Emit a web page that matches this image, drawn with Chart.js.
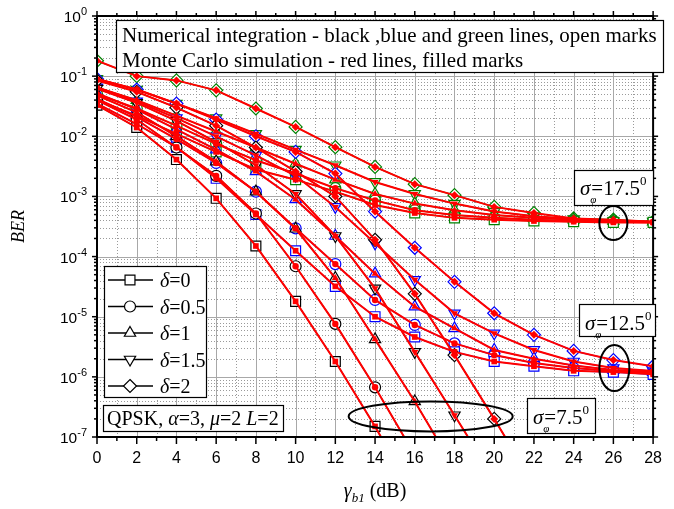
<!DOCTYPE html>
<html><head><meta charset="utf-8">
<script src="https://cdn.jsdelivr.net/npm/chart.js@4.4.1/dist/chart.umd.min.js"></script>
<style>html,body{margin:0;padding:0;background:#fff;}#wrap{width:674px;height:509px;}</style>
</head><body><div id="wrap"><canvas id="c" width="674" height="509"></canvas></div>
<script>
// ---- data ----
const snr = [0,2,4,6,8,10,12,14,16,18,20,22,24,26,28];
const xTickLabels = ['0','2','4','6','8','10','12','14','16','18','20','22','24','26','28'];
const yTickBase = '10';
const yTickExp = ['0','-1','-2','-3','-4','-5','-6','-7'];
const deltaLabels = ['0','0.5','1','1.5','2'];
const sigmaLabels = ['7.5','12.5','17.5'];

// sigma = 7.5 deg (black, numerical integration)
const ber75_d0  = [3.3e-2,1.4e-2,4.1e-3,9.3e-4,1.5e-4,1.8e-5,1.8e-6,1.5e-7,1.0e-8];
const ber75_d05 = [4.0e-2,1.9e-2,6.5e-3,2.2e-3,5.2e-4,6.9e-5,7.6e-6,6.7e-7,5.0e-8];
const ber75_d1  = [4.8e-2,2.5e-2,1.0e-2,3.8e-3,1.2e-3,2.9e-4,4.4e-5,4.2e-6,3.9e-7,3.0e-8];
const ber75_d15 = [6.2e-2,3.6e-2,1.8e-2,8.0e-3,3.3e-3,1.1e-3,2.2e-4,2.96e-5,2.6e-6,2.3e-7,2.0e-8];
const ber75_d2  = [8.5e-2,5.5e-2,3.0e-2,1.5e-2,6.5e-3,2.6e-3,1.0e-3,1.9e-4,2.4e-5,2.3e-6,2.0e-7,1.6e-8];
// sigma = 12.5 deg (blue)
const ber125_d0  = [3.5e-2,1.6e-2,6.6e-3,2.0e-3,5.0e-4,1.25e-4,3.2e-5,1.0e-5,4.6e-6,2.6e-6,1.8e-6,1.5e-6,1.26e-6,1.2e-6,1.1e-6];
const ber125_d05 = [4.2e-2,2.1e-2,9.0e-3,3.6e-3,1.2e-3,2.95e-4,7.5e-5,1.9e-5,7.3e-6,3.6e-6,2.3e-6,1.7e-6,1.4e-6,1.25e-6,1.15e-6];
const ber125_d1  = [5.2e-2,2.8e-2,1.3e-2,6.0e-3,2.6e-3,8.9e-4,2.2e-4,5.2e-5,1.47e-5,6.4e-6,2.8e-6,2.0e-6,1.55e-6,1.3e-6,1.2e-6];
const ber125_d15 = [6.5e-2,3.8e-2,2.0e-2,1.0e-2,4.8e-3,2.2e-3,6.7e-4,1.66e-4,4.1e-5,1.14e-5,5.3e-6,2.8e-6,1.8e-6,1.4e-6,1.25e-6];
const ber125_d2  = [9.0e-2,6.0e-2,3.5e-2,1.9e-2,1.0e-2,5.5e-3,2.4e-3,5.6e-4,1.4e-4,3.8e-5,1.14e-5,5.0e-6,2.7e-6,1.9e-6,1.5e-6];
// sigma = 17.5 deg (green)
const ber175_d0  = [4.0e-2,2.2e-2,1.1e-2,5.5e-3,2.8e-3,1.9e-3,1.2e-3,7.2e-4,5.3e-4,4.4e-4,4.1e-4,3.9e-4,3.8e-4,3.7e-4,3.7e-4];
const ber175_d05 = [5.0e-2,2.9e-2,1.5e-2,7.5e-3,4.0e-3,2.4e-3,1.37e-3,8.6e-4,5.9e-4,4.9e-4,4.4e-4,4.1e-4,3.9e-4,3.8e-4,3.7e-4];
const ber175_d1  = [6.5e-2,4.0e-2,2.2e-2,1.2e-2,6.5e-3,3.5e-3,1.9e-3,1.1e-3,7.6e-4,5.9e-4,4.9e-4,4.4e-4,4.1e-4,3.9e-4,3.8e-4];
const ber175_d15 = [9.0e-2,6.0e-2,3.5e-2,2.0e-2,1.1e-2,6.0e-3,3.3e-3,1.74e-3,1.1e-3,7.6e-4,5.6e-4,4.7e-4,4.2e-4,3.9e-4,3.8e-4];
const ber175_d2  = [1.8e-1,1.0e-1,8.5e-2,5.8e-2,2.9e-2,1.43e-2,6.6e-3,3.1e-3,1.6e-3,1.05e-3,6.7e-4,5.3e-4,4.3e-4,4.1e-4,3.8e-4];

// Monte Carlo simulation marks (red) read at the same points
const mc75  = [ber75_d0, ber75_d05, ber75_d1, ber75_d15, ber75_d2];
const mc125 = [ber125_d0, ber125_d05, ber125_d1, ber125_d15, ber125_d2];
const mc175 = [ber175_d0, ber175_d05, ber175_d1, ber175_d15, ber175_d2];

// ---- styling ----
const FONT_SERIF = '"Liberation Serif","Times New Roman",serif';
const FONT_SANS = '"Liberation Sans",Arial,sans-serif';
const groupColors = ['#000000', '#0000ff', '#008000'];
const shapes = [
  {style:'rect', rot:0, r:7, rf:4},
  {style:'circle', rot:0, r:5.5, rf:3.2},
  {style:'triangle', rot:0, r:6.5, rf:4},
  {style:'triangle', rot:180, r:6.5, rf:4},
  {style:'rectRot', rot:0, r:6.5, rf:4}
];
const analytic = [
  [ber75_d0, ber75_d05, ber75_d1, ber75_d15, ber75_d2],
  [ber125_d0, ber125_d05, ber125_d1, ber125_d15, ber125_d2],
  [ber175_d0, ber175_d05, ber175_d1, ber175_d15, ber175_d2]
];
const monteCarlo = [mc75, mc125, mc175];

function toPts(arr){
  const out = [];
  arr.forEach((v,i)=>{ if(v!=null) out.push({x:snr[i], y:v}); });
  return out;
}

const datasets = [];
analytic.forEach((grp, g)=>{
  grp.forEach((arr, d)=>{
    const s = shapes[d];
    datasets.push({
      label:'sigma '+sigmaLabels[g]+' delta '+deltaLabels[d],
      data: toPts(arr), borderColor: groupColors[g], borderWidth: 1.2,
      pointStyle: s.style, pointRotation: s.rot, pointRadius: s.r,
      pointBackgroundColor: '#ffffff', pointBorderColor: groupColors[g], pointBorderWidth: 1.2,
      tension: 0, clip: 0, order: 2
    });
  });
});
monteCarlo.forEach((grp, g)=>{
  grp.forEach((arr, d)=>{
    const s = shapes[d];
    datasets.push({
      label:'MC sigma '+sigmaLabels[g]+' delta '+deltaLabels[d],
      data: toPts(arr), borderColor: '#ff0000', borderWidth: 2,
      pointStyle: s.style, pointRotation: s.rot, pointRadius: s.rf,
      pointBackgroundColor: '#ff0000', pointBorderColor: '#ff0000', pointBorderWidth: 0,
      tension: 0, clip: 0, order: 1
    });
  });
});

function drawMarker(ctx, style, x, y, r, rot, fill, stroke, lw){
  ctx.save();
  ctx.beginPath();
  if(style==='circle'){ ctx.arc(x,y,r,0,Math.PI*2); }
  else if(style==='rect'){ const h=r*Math.SQRT1_2; ctx.rect(x-h,y-h,2*h,2*h); }
  else if(style==='rectRot'){ ctx.moveTo(x,y-r); ctx.lineTo(x+r,y); ctx.lineTo(x,y+r); ctx.lineTo(x-r,y); ctx.closePath(); }
  else if(style==='triangle'){
    let a = rot*Math.PI/180;
    ctx.moveTo(x+Math.sin(a)*r, y-Math.cos(a)*r);
    a += 2*Math.PI/3; ctx.lineTo(x+Math.sin(a)*r, y-Math.cos(a)*r);
    a += 2*Math.PI/3; ctx.lineTo(x+Math.sin(a)*r, y-Math.cos(a)*r);
    ctx.closePath();
  }
  if(fill){ ctx.fillStyle=fill; ctx.fill(); }
  if(stroke){ ctx.strokeStyle=stroke; ctx.lineWidth=lw; ctx.stroke(); }
  ctx.restore();
}

function drawRich(ctx, parts, x, y){
  let cx = x;
  ctx.save(); ctx.textBaseline='alphabetic'; ctx.textAlign='left'; ctx.fillStyle='#000';
  parts.forEach(p=>{
    ctx.font = p.f;
    ctx.fillText(p.t, cx, y + (p.dy||0));
    cx = cx + ctx.measureText(p.t).width;
  });
  ctx.restore();
  return cx;
}
function richWidth(ctx, parts){
  let w=0; ctx.save();
  parts.forEach(p=>{ ctx.font=p.f; w+=ctx.measureText(p.t).width; });
  ctx.restore(); return w;
}
function box(ctx, x0,y0,x1,y1){
  ctx.save(); ctx.fillStyle='#fff'; ctx.fillRect(x0,y0,x1-x0,y1-y0);
  ctx.strokeStyle='#000'; ctx.lineWidth=1.2; ctx.strokeRect(x0+0.5,y0+0.5,x1-x0,y1-y0); ctx.restore();
}

const gridPlugin = {
  id:'originGrid',
  beforeDatasetsDraw(chart){
    const {ctx, chartArea:a, scales:{x:xs, y:ys}} = chart;
    ctx.save();
    ctx.lineWidth = 1;
    ctx.strokeStyle = '#9a9a9a'; ctx.setLineDash([1,2]);
    for(let v=1; v<28; v+=2){ const px=Math.round(xs.getPixelForValue(v))+0.5; ctx.beginPath(); ctx.moveTo(px,a.top); ctx.lineTo(px,a.bottom); ctx.stroke(); }
    for(let e=-7; e<0; e++){ for(let m=2;m<=9;m++){ const py=Math.round(ys.getPixelForValue(m*Math.pow(10,e)))+0.5; ctx.beginPath(); ctx.moveTo(a.left,py); ctx.lineTo(a.right,py); ctx.stroke(); } }
    ctx.setLineDash([]); ctx.strokeStyle = '#a8a8a8';
    for(let v=2; v<28; v+=2){ const px=Math.round(xs.getPixelForValue(v))+0.5; ctx.beginPath(); ctx.moveTo(px,a.top); ctx.lineTo(px,a.bottom); ctx.stroke(); }
    for(let e=-6; e<0; e++){ const py=Math.round(ys.getPixelForValue(Math.pow(10,e)))+0.5; ctx.beginPath(); ctx.moveTo(a.left,py); ctx.lineTo(a.right,py); ctx.stroke(); }
    ctx.restore();
  },
  afterDatasetsDraw(chart){
    const {ctx, chartArea:a, scales:{x:xs, y:ys}} = chart;
    ctx.save();
    ctx.strokeStyle='#000'; ctx.lineWidth=2;
    ctx.strokeRect(a.left, a.top, a.right-a.left, a.bottom-a.top);
    ctx.lineWidth=1.5;
    for(let v=0; v<=28; v++){
      const px = xs.getPixelForValue(v); const L = (v%2===0)?7:4;
      ctx.beginPath(); ctx.moveTo(px,a.bottom); ctx.lineTo(px,a.bottom+L); ctx.stroke();
      ctx.beginPath(); ctx.moveTo(px,a.top); ctx.lineTo(px,a.top-((v%2===0)?5:3)); ctx.stroke();
    }
    for(let e=-7; e<=0; e++){
      for(let m=1;m<=9;m++){
        if(e===0 && m>1) break;
        const py = ys.getPixelForValue(m*Math.pow(10,e)); const L = (m===1)?5:3;
        ctx.beginPath(); ctx.moveTo(a.left,py); ctx.lineTo(a.left-L,py); ctx.stroke();
        ctx.beginPath(); ctx.moveTo(a.right,py); ctx.lineTo(a.right+L,py); ctx.stroke();
      }
    }
    ctx.restore();
  },
  afterDraw(chart){
    const {ctx, chartArea:a, scales:{x:xs, y:ys}} = chart;
    yTickExp.forEach((ex, i)=>{
      const py = ys.getPixelForValue(Math.pow(10, -i));
      ctx.save(); ctx.fillStyle='#000'; ctx.textBaseline='alphabetic';
      ctx.font = '15.5px '+FONT_SANS; const wb = ctx.measureText(yTickBase).width;
      ctx.font = '11px '+FONT_SANS; const we = ctx.measureText(ex).width;
      const right = a.left - 10; const x0 = right - wb - we;
      ctx.font = '15.5px '+FONT_SANS; ctx.fillText(yTickBase, x0, py+6);
      ctx.font = '11px '+FONT_SANS; ctx.fillText(ex, x0+wb, py-1);
      ctx.restore();
    });
    ctx.save(); ctx.fillStyle='#000';
    ctx.translate(24, (a.top+a.bottom)/2); ctx.rotate(-Math.PI/2);
    ctx.font='italic 18px '+FONT_SERIF; ctx.textAlign='center'; ctx.textBaseline='alphabetic';
    ctx.fillText('BER', 0, 0); ctx.restore();
    const xt = [
      {t:'\u03B3', f:'italic 20px '+FONT_SERIF},
      {t:'b1', f:'italic 13px '+FONT_SERIF, dy:5},
      {t:' (dB)', f:'20px '+FONT_SERIF}
    ];
    const wxt = richWidth(ctx, xt);
    drawRich(ctx, xt, (a.left+a.right)/2 - wxt/2, 497);

    box(ctx, 116, 20, 663, 72);
    ctx.save(); ctx.fillStyle='#000'; ctx.font='21px '+FONT_SERIF; ctx.textBaseline='alphabetic';
    ctx.fillText('Numerical integration - black ,blue and green lines, open marks', 122, 42);
    ctx.fillText('Monte Carlo simulation - red lines, filled marks', 122, 67);
    ctx.restore();

    box(ctx, 104, 266, 206, 397);
    deltaLabels.forEach((dl, i)=>{
      const y = 280 + i*26.5; const s = shapes[i];
      ctx.save(); ctx.strokeStyle='#000'; ctx.lineWidth=1.5;
      ctx.beginPath(); ctx.moveTo(108,y); ctx.lineTo(153,y); ctx.stroke(); ctx.restore();
      drawMarker(ctx, s.style, 130, y, s.r, s.rot, '#fff', '#000', 1.2);
      drawRich(ctx, [{t:'\u03B4', f:'italic 20px '+FONT_SERIF},{t:'='+dl, f:'20px '+FONT_SERIF}], 160, y+7);
    });

    box(ctx, 103, 405, 283, 431);
    drawRich(ctx, [
      {t:'QPSK, ', f:'20px '+FONT_SERIF},
      {t:'\u03B1', f:'italic 20px '+FONT_SERIF},{t:'=3, ', f:'20px '+FONT_SERIF},
      {t:'\u03BC', f:'italic 20px '+FONT_SERIF},{t:'=2 ', f:'20px '+FONT_SERIF},
      {t:'L', f:'italic 20px '+FONT_SERIF},{t:'=2', f:'20px '+FONT_SERIF}
    ], 107, 425);

    function sigmaBox(x0,y0,x1,y1, val, base){
      box(ctx, x0,y0,x1,y1);
      ctx.save(); ctx.font='italic 21px '+FONT_SERIF; const ws = ctx.measureText('\u03C3').width; ctx.restore();
      const sx = x0+6;
      drawRich(ctx, [{t:'\u03C3', f:'italic 21px '+FONT_SERIF}], sx, base);
      drawRich(ctx, [{t:'\u03C6', f:'italic 11px '+FONT_SERIF}], sx+ws, base+8);
      const ex = drawRich(ctx, [{t:'='+val, f:'21px '+FONT_SERIF}], sx+ws+1, base);
      drawRich(ctx, [{t:'0', f:'13px '+FONT_SERIF}], ex, base-10);
    }
    sigmaBox(574,170,653,205, sigmaLabels[2], 195);
    sigmaBox(579,304,655,336, sigmaLabels[1], 330);
    sigmaBox(527,398,595,433, sigmaLabels[0], 424);

    function ell(xv, yv, rx, ry){
      const cx = xs.getPixelForValue(xv), cy = ys.getPixelForValue(yv);
      ctx.save(); ctx.strokeStyle='#000'; ctx.lineWidth=2; ctx.beginPath();
      ctx.ellipse(cx, cy, rx, ry, 0, 0, Math.PI*2); ctx.stroke(); ctx.restore();
    }
    ell(26, 3.6e-4, 14, 17);
    ell(26.05, 1.4e-6, 15, 23);
    ell(16.8, 2.2e-7, 82, 15);
  }
};

new Chart(document.getElementById('c'), {
  type:'line',
  data:{ datasets },
  options:{
    responsive:false, animation:false, devicePixelRatio:1,
    layout:{padding:{top:16, right:10, left:0, bottom:0}},
    plugins:{legend:{display:false}, tooltip:{enabled:false}},
    scales:{
      x:{type:'linear', min:0, max:28,
        ticks:{stepSize:2, autoSkip:false, maxRotation:0, padding:12, color:'#000',
          font:{family:'"Liberation Sans",Arial,sans-serif', size:16},
          callback:(v,i)=>xTickLabels[i]},
        grid:{display:false, drawTicks:false}, border:{display:false},
        afterFit:(s)=>{ s.height = 72; }},
      y:{type:'logarithmic', min:1e-7, max:1,
        ticks:{display:false}, grid:{display:false, drawTicks:false}, border:{display:false},
        afterFit:(s)=>{ s.width = 97; }}
    }
  },
  plugins:[gridPlugin]
});
</script></body></html>
